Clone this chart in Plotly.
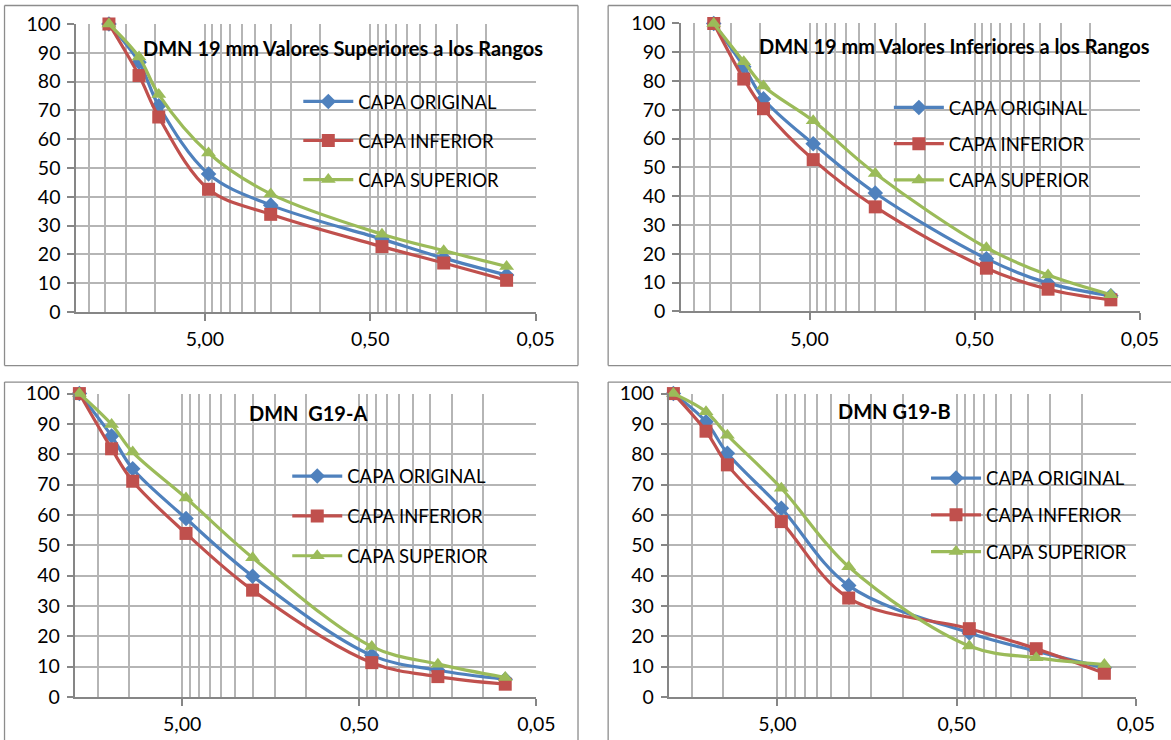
import math
import plotly.graph_objects as go

# ---------------- data ----------------
sieves = [19, 12.5, 9.5, 4.75, 2.0, 0.425, 0.18, 0.075]
series_names = ["CAPA ORIGINAL", "CAPA INFERIOR", "CAPA SUPERIOR"]

sup_original = [100, 86.7, 71.6, 47.9, 37.1, 25.3, 18.7, 12.8]
sup_inferior = [100, 82.1, 67.7, 42.6, 33.9, 22.7, 17.0, 11.0]
sup_superior = [100, 88.5, 75.5, 55.2, 41.0, 27.0, 21.3, 15.8]

inf_original = [100, 85.0, 73.8, 58.2, 41.1, 18.3, 9.8, 5.4]
inf_inferior = [100, 80.7, 70.4, 52.7, 36.3, 15.0, 7.7, 4.0]
inf_superior = [100, 86.7, 78.3, 66.2, 47.9, 22.1, 12.6, 5.8]

g19a_original = [100, 86.0, 75.2, 58.8, 39.8, 13.7, 8.8, 5.8]
g19a_inferior = [100, 81.8, 71.1, 53.9, 35.2, 11.3, 6.7, 4.2]
g19a_superior = [100, 89.8, 80.7, 65.6, 45.9, 16.6, 10.8, 6.4]

g19b_original = [100, 90.7, 80.3, 62.2, 36.7, 21.1, 15.1, 9.6]
g19b_inferior = [100, 87.6, 76.5, 57.8, 32.6, 22.5, 15.9, 7.8]
g19b_superior = [100, 94.0, 86.3, 68.8, 42.9, 16.8, 12.9, 10.7]

chart_titles = [
    "DMN 19 mm Valores Superiores a los Rangos",
    "DMN 19 mm Valores Inferiores a los Rangos",
    "DMN  G19-A",
    "DMN G19-B",
]
x_tick_vals = [5, 0.5, 0.05]
x_tick_text = ["5,00", "0,50", "0,05"]
y_tick_vals = [0, 10, 20, 30, 40, 50, 60, 70, 80, 90, 100]

panels_data = [
    [sup_original, sup_inferior, sup_superior],
    [inf_original, inf_inferior, inf_superior],
    [g19a_original, g19a_inferior, g19a_superior],
    [g19b_original, g19b_inferior, g19b_superior],
]
x_max_values = [30, 30, 20, 20]

# ---------------- styling / layout ----------------
W, H = 1171, 740
FONT = "Lato"
colors = ["#4F81BD", "#C0504D", "#9BBB59"]
symbols = ["diamond", "square", "triangle-up"]
msizes = [12, 13, 13]
GRID = "#B5B5B5"
AXIS = "#868686"
BORDER = "#8C8C8C"

# screen calibration (target pixel -> figure pixel), measured from a test frame
CX0, CXS = 3.0, 0.9795
CY0, CYS = 12.0, 0.970


def fx(v):
    return ((v - CX0) / CXS) / W


def fy(v):
    return 1 - ((v - CY0) / CYS) / H


# target pixel boxes (left, right, top, bottom) of each plot area
boxes = [
    (78.8, 536.4, 24.0, 312.3),
    (681.0, 1138.0, 23.5, 311.7),
    (78.1, 537.1, 394.0, 697.7),
    (669.5, 1134.0, 394.0, 697.7),
]
# chart border segments (x0, y0, x1, y1) in target pixels
border_lines = [
    # top-left chart (full box)
    (7.5, 5.5, 578.5, 5.5), (7.5, 366.0, 578.5, 366.0),
    (7.5, 5.5, 7.5, 366.0), (578.5, 5.5, 578.5, 366.0),
    # top-right chart (runs off the right edge)
    (608.5, 5.5, 1172, 5.5), (608.5, 366.0, 1172, 366.0),
    (608.5, 5.5, 608.5, 366.0),
    # bottom-left chart (runs off the bottom edge)
    (7.5, 382.5, 578.5, 382.5), (7.5, 382.5, 7.5, 741),
    (578.5, 382.5, 578.5, 741),
    # bottom-right chart
    (608.5, 382.5, 1172, 382.5), (608.5, 382.5, 608.5, 741),
]
title_pos = [(345, 48), (953, 46), (310, 413), (894, 411)]
legend_pos = [(300, 83), (888, 89), (289, 458), (925, 460)]
legend_gaps = [12.0, 9.2, 12.8, 9.7]


def minor_grid(xmax):
    vals = []
    for base in (0.05, 0.5, 5):
        for k in range(2, 10):
            v = base * k
            if v <= xmax + 1e-9:
                vals.append(v)
    return vals


fig = go.Figure()
layout = dict(
    width=W, height=H,
    margin=dict(l=0, r=0, t=0, b=0),
    paper_bgcolor="white", plot_bgcolor="white",
    font=dict(family=FONT, size=19, color="black"),
    showlegend=True,
    shapes=[], annotations=[],
)

for i in range(4):
    n = i + 1
    sfx = "" if n == 1 else str(n)
    xa, ya = "x" + sfx, "y" + sfx
    leg = "legend" + sfx
    for j in range(3):
        fig.add_trace(go.Scatter(
            x=sieves, y=panels_data[i][j], name=series_names[j],
            mode="lines+markers", xaxis=xa, yaxis=ya, legend=leg,
            legendgroup=f"p{n}s{j}",
            line=dict(color=colors[j], width=3.2, shape="spline", smoothing=1.0),
            marker=dict(symbol=symbols[j], size=msizes[j], color=colors[j],
                        line=dict(width=0)),
            cliponaxis=False, hoverinfo="x+y+name",
        ))
    l, r, t, b = boxes[i]
    xmax = x_max_values[i]
    layout["xaxis" + sfx] = dict(
        type="log", autorange=False,
        range=[math.log10(xmax), math.log10(0.05)],
        domain=[fx(l), fx(r)], anchor=ya,
        tickmode="array", tickvals=x_tick_vals, ticktext=x_tick_text,
        ticks="outside", ticklen=7, tickwidth=1.5, tickcolor=AXIS,
        ticklabelstandoff=2,
        showline=True, linecolor=AXIS, linewidth=1.5,
        showgrid=True, gridcolor=GRID, gridwidth=1.5,
        minor=dict(tickmode="array", tickvals=minor_grid(xmax), showgrid=True,
                   gridcolor=GRID, gridwidth=1.5, ticks=""),
        zeroline=False, tickfont=dict(family=FONT, size=19.5, color="black"),
        fixedrange=True,
    )
    layout["yaxis" + sfx] = dict(
        range=[0, 100], autorange=False,
        domain=[fy(b), fy(t)], anchor=xa,
        tickmode="array", tickvals=y_tick_vals,
        ticks="outside", ticklen=7, tickwidth=1.5, tickcolor=AXIS,
        ticklabelstandoff=3,
        showline=True, linecolor=AXIS, linewidth=1.5,
        showgrid=True, gridcolor=GRID, gridwidth=1.5,
        zeroline=False, tickfont=dict(family=FONT, size=19.5, color="black"),
        fixedrange=True,
    )
    lx, ly = legend_pos[i]
    layout[leg] = dict(
        x=fx(lx), y=fy(ly), xanchor="left", yanchor="top",
        xref="paper", yref="paper",
        bgcolor="rgba(0,0,0,0)", borderwidth=0,
        font=dict(family=FONT, size=18.5, color="black"),
        itemwidth=50, tracegroupgap=legend_gaps[i], traceorder="grouped",
        itemclick=False, itemdoubleclick=False,
    )
    tx, ty = title_pos[i]
    layout["annotations"].append(dict(
        text="<b>" + chart_titles[i] + "</b>", xref="paper", yref="paper",
        x=fx(tx), y=fy(ty), xanchor="center", yanchor="middle",
        showarrow=False, font=dict(family=FONT, size=20, color="black"),
    ))

for (x0, y0, x1, y1) in border_lines:
    layout["shapes"].append(dict(
        type="line", xref="paper", yref="paper", layer="below",
        x0=fx(x0), y0=fy(y0), x1=fx(x1), y1=fy(y1),
        line=dict(color=BORDER, width=1.3),
    ))

fig.update_layout(**layout)
fig.write_html(
    "out.html",
    config={"displayModeBar": False},
    post_script="document.body.style.margin='0';document.body.style.overflow='hidden';",
)
